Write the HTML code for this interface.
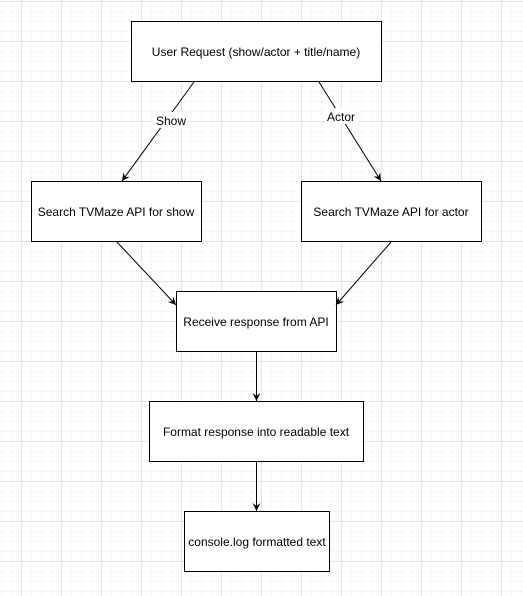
<!DOCTYPE html>
<html><head><style>
html,body{margin:0;padding:0;background:#fff;}
body{width:523px;height:596px;overflow:hidden;position:relative;
background-image:
linear-gradient(#e4e4e4 1px,transparent 1px),
linear-gradient(90deg,#e4e4e4 1px,transparent 1px),
linear-gradient(#f6f6f6 1px,transparent 1px),
linear-gradient(90deg,#f6f6f6 1px,transparent 1px);
background-size:40px 40px,40px 40px,10px 10px,10px 10px;
background-position:0 1px,21px 0,0 1px,1px 0;}
svg{position:absolute;left:0;top:0}
text{font-family:"Liberation Sans",Arial,sans-serif;font-size:12px;fill:#000}
</style></head><body>
<svg width="523" height="596" viewBox="0 0 523 596">
<defs><marker id="a" markerWidth="10" markerHeight="10" refX="8" refY="5" orient="auto" markerUnits="userSpaceOnUse">
<path d="M0,1 L8,5 L0,9 L3,5 Z" fill="#000"/></marker></defs>
<g fill="#fff" stroke="#000" stroke-width="1">
<rect x="131.5" y="21.5" width="250" height="60"/>
<rect x="31.5" y="181.5" width="170" height="60"/>
<rect x="301.5" y="181.5" width="180" height="60"/>
<rect x="176.5" y="291.5" width="160" height="60"/>
<rect x="149.5" y="401.5" width="214" height="60"/>
<rect x="184.5" y="511.5" width="145" height="60"/>
</g>
<g stroke="#000" stroke-width="1" fill="none" marker-end="url(#a)">
<path d="M194,82 L122,181"/>
<path d="M319,82 L381,181"/>
<path d="M117,242 L176,305"/>
<path d="M391,242 L336,305"/>
<path d="M256.5,352 L256.5,401"/>
<path d="M256.5,462 L256.5,511"/>
</g>
<rect x="154" y="112" width="34" height="16" fill="#fff"/>
<rect x="326" y="108" width="32" height="16" fill="#fff"/>
<text x="171" y="125" text-anchor="middle">Show</text>
<text x="341" y="121" text-anchor="middle">Actor</text>
<text x="256" y="56" text-anchor="middle">User Request (show/actor + title/name)</text>
<text x="116" y="216" text-anchor="middle">Search TVMaze API for show</text>
<text x="391" y="216" text-anchor="middle">Search TVMaze API for actor</text>
<text x="256" y="326" text-anchor="middle">Receive response from API</text>
<text x="256" y="436" text-anchor="middle">Format response into readable text</text>
<text x="257" y="546" text-anchor="middle">console.log formatted text</text>
</svg>
</body></html>
